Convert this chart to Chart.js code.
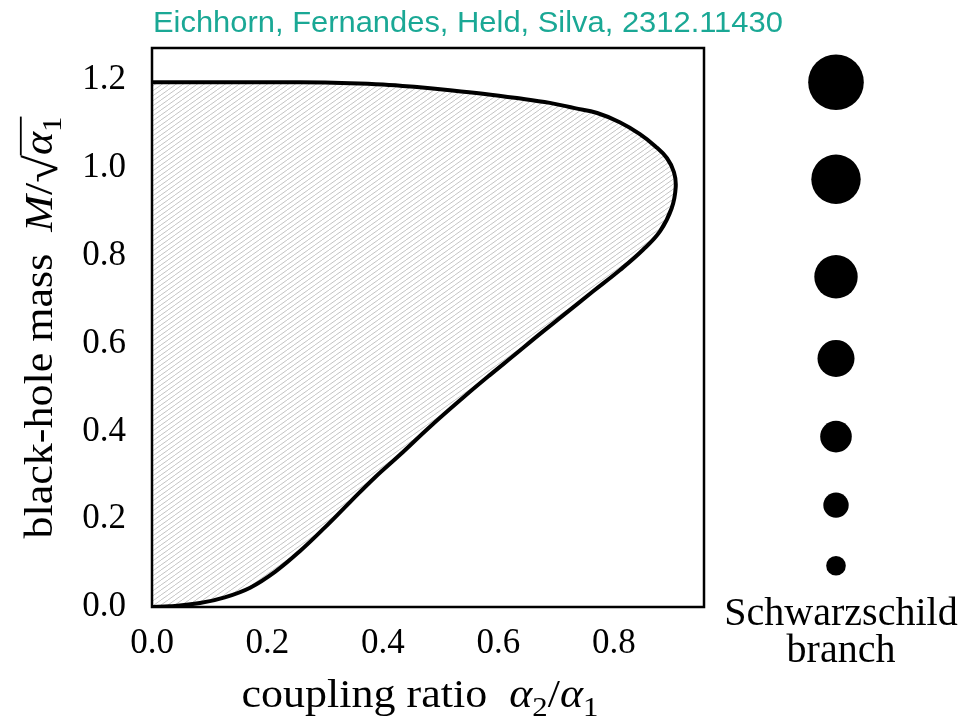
<!DOCTYPE html>
<html>
<head>
<meta charset="utf-8">
<script src="https://cdn.jsdelivr.net/npm/chart.js@4.4.1/dist/chart.umd.min.js"></script>
<style>
  html, body { margin: 0; padding: 0; background: #fff; }
  #wrap { position: relative; width: 977px; height: 717px; }
  #main { position: absolute; left: 0; top: 0; }
  #dots { position: absolute; left: 706px; top: 0; }
</style>
</head>
<body>
<div id="wrap">
  <canvas id="main" width="977" height="717"></canvas>
  <canvas id="dots" width="260" height="717"></canvas>
</div>
<script>
// boundary of the hairy black-hole region, walked from the origin round the tip and back to the axis
const alphaRatio = [
  0, 0.031, 0.083, 0.126, 0.170, 0.213, 0.256, 0.300, 0.343, 0.386, 0.429, 0.481,
  0.539, 0.585, 0.625, 0.672, 0.712, 0.764, 0.810, 0.850, 0.880, 0.900, 0.907,
  0.904, 0.892, 0.871, 0.845, 0.810, 0.771, 0.732, 0.689, 0.632, 0.573, 0.516,
  0.459, 0.400, 0.343, 0.256, 0.170, 0.083, 0
];
const massCurve = [
  0, 0.0016, 0.009, 0.022, 0.044, 0.080, 0.127, 0.182, 0.239, 0.295, 0.346, 0.410,
  0.477, 0.528, 0.571, 0.622, 0.664, 0.719, 0.767, 0.813, 0.856, 0.908, 0.956,
  0.990, 1.022, 1.050, 1.077, 1.104, 1.125, 1.136, 1.148, 1.159, 1.169, 1.177,
  1.184, 1.190, 1.193, 1.195, 1.195, 1.195, 1.195
];

// Schwarzschild branch: masses of the black holes shown on the right
const branchMass = [1.195, 0.974, 0.752, 0.566, 0.388, 0.232, 0.094];

const xTicks = [0, 0.2, 0.4, 0.6, 0.8];
const yTicks = [0, 0.2, 0.4, 0.6, 0.8, 1.0, 1.2];
const xMax = 0.956;
const yMax = 1.273;

const dotSizes = [27.8, 24.7, 21.7, 18.5, 15.8, 12.7, 9.8];

const SERIF = '"Liberation Serif", "Times New Roman", serif';
const SANS = '"Liberation Sans", Arial, sans-serif';

function hatch() {
  const w = 7, h = 5;
  const c = document.createElement('canvas');
  c.width = w; c.height = h;
  const g = c.getContext('2d');
  g.strokeStyle = '#bcbcbc';
  g.lineWidth = 0.9;
  g.beginPath();
  for (const o of [-w, 0, w]) { g.moveTo(o, h); g.lineTo(o + w, 0); }
  g.stroke();
  return g.createPattern(c, 'repeat');
}

// text with italic / subscript / sqrt pieces, centred on (0,0) baseline
function drawRich(ctx, parts, size, stretch) {
  const runs = parts.map(p => {
    let s = size, dy = 0;
    if (p.sub) { s = size * 0.7; dy = size * 0.22; }
    if (p.root) { s = size * 1.15; dy = size * 0.12; }
    const font = (p.it ? 'italic ' : '') + s + 'px ' + SERIF;
    ctx.font = font;
    const m = ctx.measureText(p.t);
    return Object.assign({}, p, { font, dy, w: m.width, asc: m.actualBoundingBoxAscent, right: m.actualBoundingBoxRight });
  });
  const total = runs.reduce((a, r) => a + r.w, 0);
  ctx.save();
  ctx.scale(stretch, 1);
  ctx.textAlign = 'left';
  ctx.textBaseline = 'alphabetic';
  ctx.fillStyle = '#000';
  ctx.strokeStyle = '#000';
  let x = -total / 2, barX0 = null, barX1 = null, barY = 0;
  for (const r of runs) {
    ctx.font = r.font;
    ctx.fillText(r.t, x, r.dy);
    if (r.root) { barX0 = x + r.right - 1; barY = r.dy - r.asc + 1; }
    if (r.bar) barX1 = x + r.w;
    x += r.w;
  }
  if (barX0 !== null) {
    ctx.lineWidth = size * 0.045;
    ctx.beginPath();
    ctx.moveTo(barX0, barY);
    ctx.lineTo(barX1, barY);
    ctx.stroke();
  }
  ctx.restore();
}

const frame = {
  id: 'frame',
  afterDatasetsDraw(chart) {
    const { ctx, chartArea: a } = chart;
    ctx.save();
    ctx.strokeStyle = '#000';
    ctx.lineWidth = 2.5;
    ctx.strokeRect(a.left, a.top, a.right - a.left, a.bottom - a.top);
    ctx.restore();
  }
};

const labels = {
  id: 'labels',
  afterDraw(chart) {
    const { ctx, chartArea: a } = chart;
    ctx.save();
    ctx.font = '30px ' + SANS;
    ctx.fillStyle = '#1aa895';
    ctx.textBaseline = 'alphabetic';
    ctx.textAlign = 'left';
    ctx.translate(153, 31.5);
    ctx.scale(1.03, 1);
    ctx.fillText('Eichhorn, Fernandes, Held, Silva, 2312.11430', 0, 0);
    ctx.restore();

    ctx.save();
    ctx.translate(420, 707);
    drawRich(ctx, [
      { t: 'coupling ratio  ' }, { t: 'α', it: true }, { t: '2', sub: true },
      { t: '/' }, { t: 'α', it: true }, { t: '1', sub: true }
    ], 40, 1.1);
    ctx.restore();

    ctx.save();
    ctx.translate(52, (a.top + a.bottom) / 2);
    ctx.rotate(-Math.PI / 2);
    drawRich(ctx, [
      { t: 'black-hole mass  ' }, { t: 'M', it: true }, { t: '/' },
      { t: '√', root: true }, { t: 'α', it: true, bar: true }, { t: '1', sub: true, bar: true }
    ], 40, 1.1);
    ctx.restore();
  }
};

const tickFont = { family: SERIF, size: 35, lineHeight: 1.2 };

new Chart(document.getElementById('main'), {
  type: 'scatter',
  data: {
    datasets: [{
      data: alphaRatio.map((a, i) => ({ x: a, y: massCurve[i] })),
      showLine: true,
      tension: 0.4,
      borderColor: '#000',
      borderWidth: 4,
      pointRadius: 0,
      fill: 'shape',
      backgroundColor: hatch()
    }]
  },
  options: {
    responsive: false,
    animation: false,
    events: [],
    layout: { padding: { top: 48, right: 273, bottom: 0, left: 0 } },
    plugins: { legend: { display: false }, tooltip: { enabled: false } },
    scales: {
      x: {
        type: 'linear', min: 0, max: xMax,
        grid: { display: false, drawTicks: false },
        border: { display: false },
        afterFit: s => { s.height = 110; },
        afterBuildTicks: s => { s.ticks = xTicks.map(v => ({ value: v })); },
        ticks: { font: tickFont, color: '#000', padding: 16, maxRotation: 0, autoSkip: false,
                 callback: v => v.toFixed(1) }
      },
      y: {
        type: 'linear', min: 0, max: yMax,
        grid: { display: false, drawTicks: false },
        border: { display: false },
        afterFit: s => { s.width = 152; },
        afterBuildTicks: s => { s.ticks = yTicks.map(v => ({ value: v })); },
        ticks: { font: tickFont, color: '#000', padding: 26, autoSkip: false,
                 callback: v => v.toFixed(1) }
      }
    }
  },
  plugins: [frame, labels]
});

const branchLabel = {
  id: 'branchLabel',
  afterDraw(chart) {
    const ctx = chart.ctx;
    ctx.save();
    ctx.font = '40px ' + SERIF;
    ctx.fillStyle = '#000';
    ctx.textAlign = 'center';
    ctx.textBaseline = 'alphabetic';
    ctx.fillText('Schwarzschild', 135, 625);
    ctx.fillText('branch', 135, 662);
    ctx.restore();
  }
};

new Chart(document.getElementById('dots'), {
  type: 'scatter',
  data: {
    datasets: [{
      data: branchMass.map(m => ({ x: 0, y: m })),
      pointRadius: dotSizes,
      backgroundColor: '#000',
      borderWidth: 0,
      clip: false
    }]
  },
  options: {
    responsive: false,
    animation: false,
    events: [],
    layout: { padding: { top: 48, right: 0, bottom: 110, left: 0 } },
    plugins: { legend: { display: false }, tooltip: { enabled: false } },
    scales: {
      x: { display: false, min: -1, max: 1 },
      y: { display: false, min: 0, max: yMax }
    }
  },
  plugins: [branchLabel]
});
</script>
</body>
</html>
